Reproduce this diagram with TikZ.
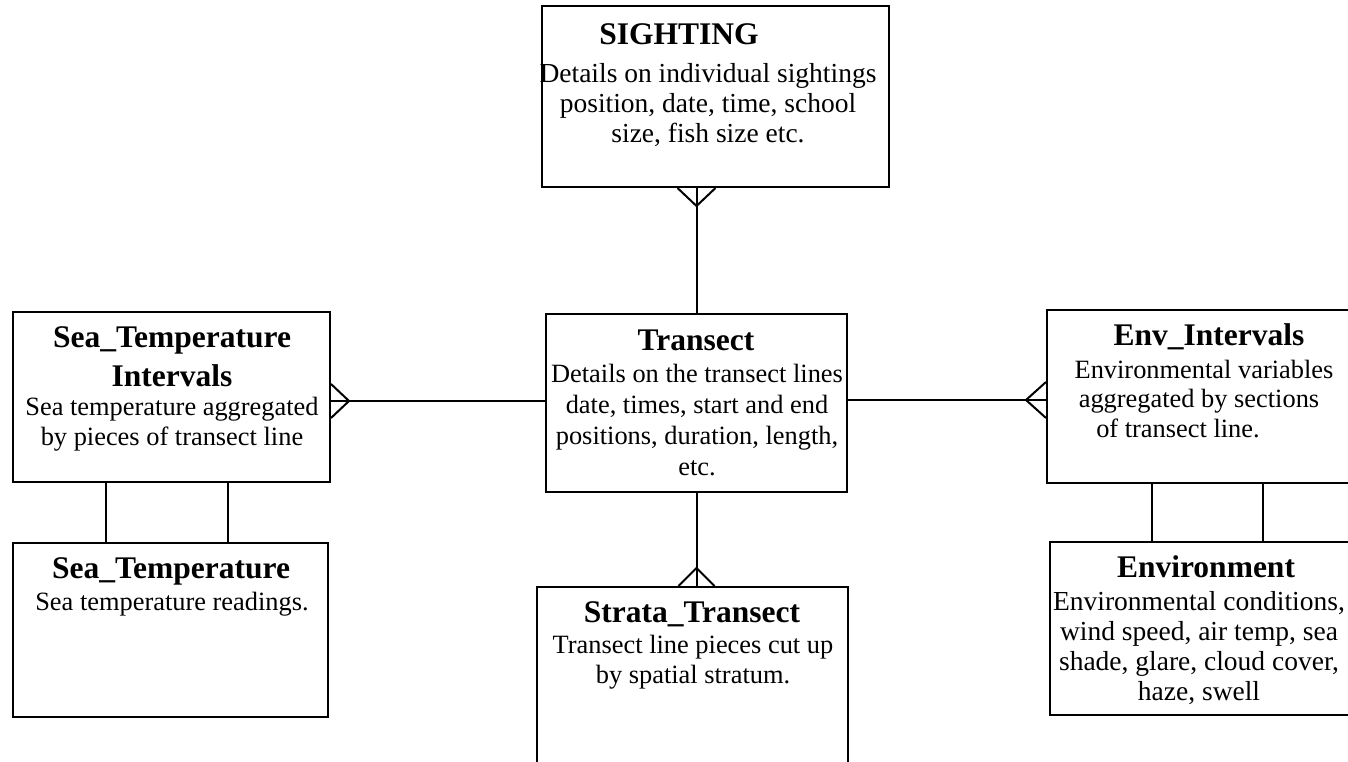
\documentclass[tikz,border=0pt]{standalone}
\usepackage{fontspec}
\setmainfont{Liberation Serif}
\usetikzlibrary{calc}

% zero-width struts that fix the height of the first line of a text block
\newcommand\TitleStrut{\rule{0pt}{25pt}}
\newcommand\BodyStrut{\rule{0pt}{22pt}}

\begin{document}
\begin{tikzpicture}[x=1pt,y=-1pt,
  entity/.style={draw, line width=2pt, rectangle, inner sep=0pt},
  link/.style={line width=2pt},
  title/.style={inner sep=0pt, anchor=base, font=\fontsize{31.5}{39}\selectfont\bfseries, align=center},
  body/.style={inner sep=0pt, anchor=north, font=\fontsize{26.4}{31}\selectfont, align=center},
  bodylarge/.style={body, font=\fontsize{27.5}{30}\selectfont}]

\useasboundingbox (0,0) rectangle (1348,762);
\clip (0,0) rectangle (1348,762);

% ---------- entity boxes ----------
\node[entity, minimum width=347pt, minimum height=181pt] (sighting) at (715.5,96.5) {};
\node[entity, minimum width=301pt, minimum height=178pt] (transect) at (696.5,403) {};
\node[entity, minimum width=311pt, minimum height=190pt] (strata)   at (692.5,682) {};
\node[entity, minimum width=317pt, minimum height=170pt] (stint)    at (171.5,397) {};
\node[entity, minimum width=315pt, minimum height=174pt] (seatemp)  at (170.5,630) {};
\node[entity, minimum width=305pt, minimum height=173pt] (envint)   at (1199.5,396.5) {};
\node[entity, minimum width=302pt, minimum height=173pt] (env)      at (1201,628.5) {};

% ---------- texts ----------
\node[title] (sightingT) at (679,45) {SIGHTING};
\node[bodylarge] (sightingB) at (708,60) {\BodyStrut Details on individual sightings\\
  position, date, time, school\\ size, fish size etc.};

\node[title] (transectT) at (696,350) {Transect};
\node[body] (transectB) at (697,360) {\BodyStrut Details on the transect lines\\
  date, times, start and end\\ positions, duration, length,\\ etc.};

\node[title] (strataT) at (692,622) {Strata\_Transect};
\node[body, font=\fontsize{26.4}{30}\selectfont] (strataB) at (693,631) {\BodyStrut Transect line pieces cut up\\ by spatial stratum.};

\node[title, anchor=north] (stintT) at (172,322) {\TitleStrut Sea\_Temperature\\ Intervals};
\node[body, font=\fontsize{26.4}{30}\selectfont] (stintB) at (172,393) {\BodyStrut Sea temperature aggregated\\ by pieces of transect line};

\node[title] (seatempT) at (171,578) {Sea\_Temperature};
\node[body] (seatempB) at (172,588) {\BodyStrut Sea temperature readings.};

\node[title] (envintT) at (1209,345) {Env\_Intervals};
\node[body, font=\fontsize{26.4}{29.5}\selectfont] (envintB) at (1204,356) {\BodyStrut Environmental variables\\
  aggregated by sections\rule{10pt}{0pt}\\ of transect line.\rule{52pt}{0pt}};

\node[title] (envT) at (1206,577) {Environment};
\node[bodylarge] (envB) at (1199,588) {\BodyStrut Environmental conditions,\\
  wind speed, air temp, sea\\ shade, glare, cloud cover,\\ haze, swell};

% ---------- relationships ----------
% SIGHTING (many) -- Transect
\coordinate (sA) at (transect.north |- sighting.south);
\coordinate (sApex) at ([yshift=-18pt]sA);
\draw[link] (sA) -- (transect.north);
\draw[link] ([xshift=-19pt]sA) -- (sApex) -- ([xshift=19pt]sA);

% Transect -- Strata_Transect (many)
\coordinate (tA) at (transect.south |- strata.north);
\coordinate (tApex) at ([yshift=18pt]tA);
\draw[link] (transect.south) -- (tA);
\draw[link] ([xshift=-18pt]tA) -- (tApex) -- ([xshift=18pt]tA);

% Transect -- Sea_Temperature Intervals (many)
\coordinate (lA) at (stint.east |- 0,401);
\coordinate (lApex) at ([xshift=18pt]lA);
\draw[link] (transect.west |- 0,401) -- (lA);
\draw[link] ([yshift=17pt]lA) -- (lApex) -- ([yshift=-17pt]lA);

% Transect -- Env_Intervals (many)
\coordinate (rA) at (envint.west |- 0,400);
\coordinate (rApex) at ([xshift=-20pt]rA);
\draw[link] (transect.east |- 0,400) -- (rA);
\draw[link] ([yshift=18pt]rA) -- (rApex) -- ([yshift=-18pt]rA);

% interval tables -- their source tables
\draw[link] (106,0 |- stint.south) -- (106,0 |- seatemp.north);
\draw[link] (228,0 |- stint.south) -- (228,0 |- seatemp.north);
\draw[link] (1152,0 |- envint.south) -- (1152,0 |- env.north);
\draw[link] (1263,0 |- envint.south) -- (1263,0 |- env.north);

\end{tikzpicture}
\end{document}
